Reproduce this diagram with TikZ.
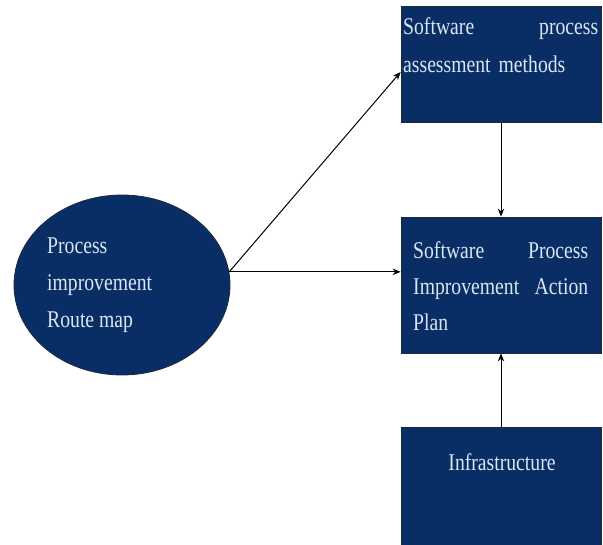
\documentclass[tikz,border=0pt]{standalone}
\usepackage{fontspec}
\newfontfamily\condserif[FakeStretch=0.82]{Liberation Serif}
\usetikzlibrary{shapes.geometric,arrows.meta}
\definecolor{navy}{RGB}{9,46,102}
\definecolor{edgecol}{RGB}{30,40,60}
\definecolor{txt}{RGB}{218,230,242}
\tikzset{
  box/.style={draw=edgecol, line width=0.8pt, fill=navy},
  lbl/.style={text=txt, inner sep=0pt, font=\condserif\fontsize{24}{38}\selectfont},
  arr/.style={draw=black, line width=1pt, -{Stealth[length=8pt,width=6.5pt]}}
}
\begin{document}
\begin{tikzpicture}[x=1pt,y=-1pt]
\useasboundingbox (0,0) rectangle (603,545);
\fill[white] (0,0) rectangle (603,545);
% shapes
\node[box, ellipse, minimum width=216pt, minimum height=180pt, inner sep=0pt] (e) at (122,285) {};
\node[box, minimum width=200pt, minimum height=116pt] (a) at (501,64) {};
\node[box, minimum width=200pt, minimum height=136pt] (b) at (501,285) {};
\node[box, minimum width=200pt, minimum height=118pt] (c) at (501,486) {};
% texts
\node[lbl, anchor=north west, text width=195pt, align=left] (at) at (403,17) {Software\hfill process\\assessment methods};
\node[lbl, anchor=north west, text width=175pt, align=left, font=\condserif\fontsize{24}{36}\selectfont] (bt) at (413,241) {Software\hfill Process\\Improvement\hfill Action\\Plan};
\node[lbl] (ct) at (502,462) {Infrastructure};
\node[lbl, anchor=north west, align=left, font=\condserif\fontsize{24}{37}\selectfont] (et) at (47,238) {Process\\improvement\\Route map};
% connectors
\draw[arr] (e.7) -- ([yshift=-8pt]a.west);
\draw[arr] (e.7) -- (e.7 -| b.west);
\draw[arr] (a.south) -- (b.north);
\draw[arr] (c.north) -- (b.south);
\end{tikzpicture}
\end{document}
